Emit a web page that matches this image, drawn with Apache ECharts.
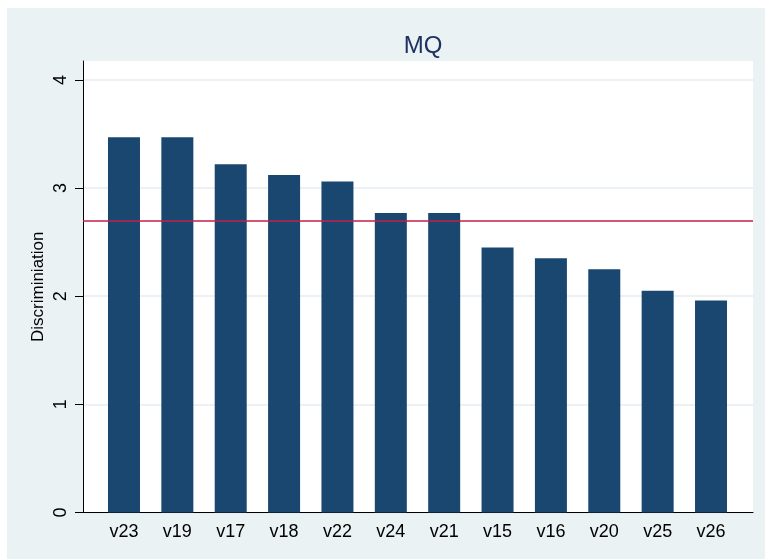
<!DOCTYPE html>
<html>
<head>
<meta charset="utf-8">
<script src="https://cdn.jsdelivr.net/npm/echarts@6/dist/echarts.min.js"></script>
<style>
  html, body { margin: 0; padding: 0; background: #fff; }
  #chart { width: 765px; height: 559px; }
</style>
</head>
<body>
<div id="chart"></div>
<script>
// items sorted by discrimination
const categories = ['v23', 'v19', 'v17', 'v18', 'v22', 'v24', 'v21', 'v15', 'v16', 'v20', 'v25', 'v26'];
const discrimination = [3.47, 3.47, 3.22, 3.12, 3.06, 2.77, 2.77, 2.45, 2.35, 2.25, 2.05, 1.96];
const cutoff = 2.70;
const yTicks = [0, 1, 2, 3, 4];
const yMax = 4.175;

const font = "'Liberation Sans', Arial, Helvetica, sans-serif";

let chart = echarts.init(document.getElementById('chart'));

let option = {
  backgroundColor: '#fff',
  animation: false,
  title: {
    text: 'MQ',
    left: 418,
    top: 29,
    textAlign: 'center',
    textStyle: { fontFamily: font, fontSize: 24, fontWeight: 'normal', color: '#1E3160' }
  },
  graphic: [
    {
      type: 'rect',
      z: -10,
      silent: true,
      shape: { x: 7, y: 8, width: 758, height: 551 },
      style: { fill: '#EAF2F3' }
    }
  ],
  grid: [
    // full plot region: axes, grid lines, reference line
    { left: 83, right: 12, top: 61, bottom: 46.5, show: true, backgroundColor: '#fff', borderWidth: 0 },
    // bars region (inset like the original)
    { left: 97.3, right: 27.3, top: 61, bottom: 46.5 }
  ],
  xAxis: [
    {
      gridIndex: 0,
      type: 'category',
      data: categories,
      axisLine: { lineStyle: { color: '#000', width: 1 } },
      axisTick: { show: false },
      axisLabel: { show: false },
      splitLine: { show: false }
    },
    {
      gridIndex: 1,
      type: 'category',
      data: categories,
      axisLine: { show: false },
      axisTick: { show: false },
      axisLabel: { margin: 11, fontFamily: font, fontSize: 18, color: '#000' }
    }
  ],
  yAxis: [
    {
      gridIndex: 0,
      type: 'value',
      min: 0,
      max: yMax,
      name: 'Discriminiation',
      nameLocation: 'middle',
      nameGap: 36,
      nameMoveOverlap: false,
      nameRotate: 90,
      nameTextStyle: { fontFamily: font, fontSize: 17, color: '#000' },
      axisLine: { show: true, lineStyle: { color: '#000', width: 1 } },
      axisTick: { show: true, length: 8, customValues: yTicks, lineStyle: { color: '#000' } },
      axisLabel: { rotate: 90, margin: 13, customValues: yTicks, fontFamily: font, fontSize: 18, color: '#000' },
      splitLine: { show: true, lineStyle: { color: '#E6EDF2', width: 1.5 } }
    },
    {
      gridIndex: 1,
      type: 'value',
      min: 0,
      max: yMax,
      show: false
    }
  ],
  series: [
    {
      type: 'line',
      xAxisIndex: 0,
      yAxisIndex: 0,
      data: [],
      silent: true,
      markLine: {
        symbol: 'none',
        silent: true,
        label: { show: false },
        lineStyle: { color: '#C41E4A', width: 1.5, type: 'solid' },
        data: [{ yAxis: cutoff }]
      }
    },
    {
      type: 'bar',
      xAxisIndex: 1,
      yAxisIndex: 1,
      data: discrimination,
      barWidth: 32,
      itemStyle: { color: '#1A476F' }
    }
  ]
};

chart.setOption(option);
</script>
</body>
</html>
